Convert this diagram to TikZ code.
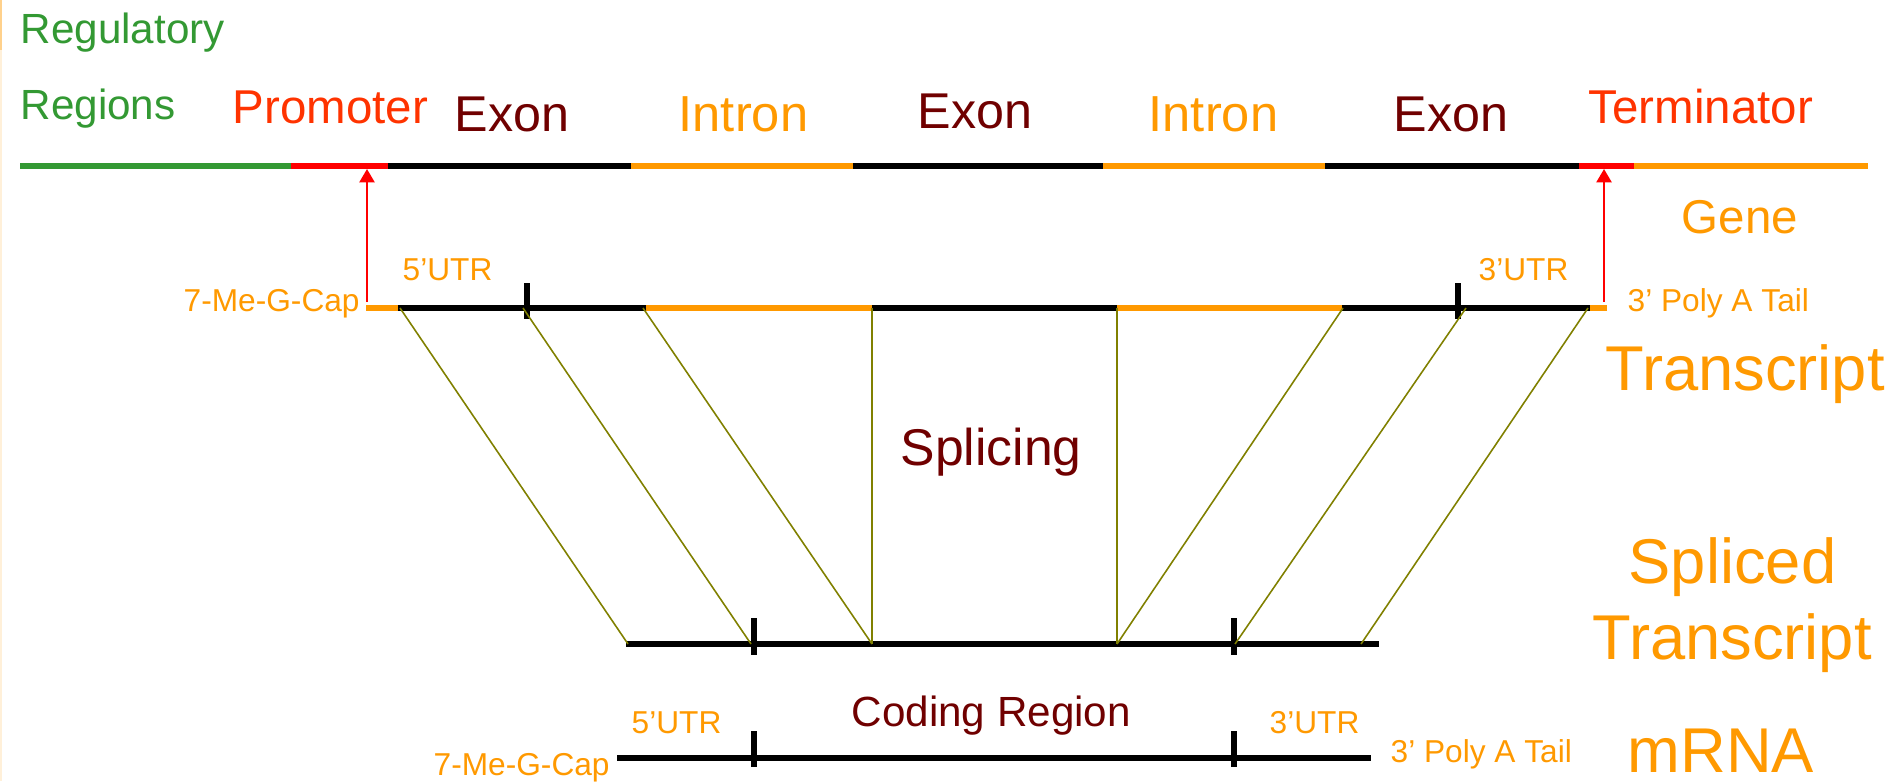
\documentclass[tikz,border=0pt]{standalone}
\usepackage{fontspec}
\setmainfont{Liberation Sans}
\usetikzlibrary{arrows.meta}

\definecolor{regreen}{RGB}{51,153,51}
\definecolor{promred}{RGB}{255,51,0}
\definecolor{exonred}{RGB}{112,0,0}
\definecolor{introrange}{RGB}{255,153,0}
\definecolor{olive}{RGB}{128,128,0}

\tikzset{
  lbl/.style={inner sep=0pt, anchor=base west},
  regtext/.style={lbl, text=regreen, font=\fontsize{12}{14}\selectfont},
  promtext/.style={lbl, text=promred, font=\fontsize{13.5}{16}\selectfont},
  exontext/.style={lbl, text=exonred, font=\fontsize{14.3}{17}\selectfont},
  introntext/.style={lbl, text=introrange, font=\fontsize{14.4}{17}\selectfont},
  smalltext/.style={lbl, text=introrange, font=\fontsize{9}{11}\selectfont},
  bigtext/.style={lbl, text=introrange, font=\fontsize{18}{21}\selectfont},
  geneline/.style={line width=1.75pt, line cap=butt},
  rnaline/.style={line width=1.45pt, line cap=butt},
  utrtick/.style={line width=1.45pt, black},
  splice/.style={olive, line width=0.45pt},
  start/.style={red, line width=0.6pt, -{Triangle[width=4.3pt,length=3.8pt]}}
}

\begin{document}
\begin{tikzpicture}[x=0.01cm, y=-0.01cm]
  \useasboundingbox (0,0) rectangle (1901,781);
  \fill[introrange!45] (0,0) rectangle (2,50);
  \fill[introrange!15] (0,50) rectangle (2,781);

  % gene
  \coordinate (G0) at (20,166);
  \coordinate (G1) at (291,166);
  \coordinate (G2) at (388,166);
  \coordinate (G3) at (631,166);
  \coordinate (G4) at (853,166);
  \coordinate (G5) at (1103,166);
  \coordinate (G6) at (1325,166);
  \coordinate (G7) at (1579,166);
  \coordinate (G8) at (1634,166);
  \coordinate (G9) at (1868,166);
  \draw[geneline, regreen] (G0) -- (G1);
  \draw[geneline, red] (G1) -- (G2);
  \draw[geneline, black] (G2) -- (G3);
  \draw[geneline, introrange] (G3) -- (G4);
  \draw[geneline, black] (G4) -- (G5);
  \draw[geneline, introrange] (G5) -- (G6);
  \draw[geneline, black] (G6) -- (G7);
  \draw[geneline, red] (G7) -- (G8);
  \draw[geneline, introrange] (G8) -- (G9);

  \node[regtext] (Reg) at (20,43) {Regulatory};
  \node[regtext] (Regs) at (20,119) {Regions};
  \node[promtext] (Prom) at (232,123) {Promoter};
  \node[exontext] (E1) at (454,131) {Exon};
  \node[introntext] (I1) at (678,131) {Intron};
  \node[exontext] (E2) at (917,128) {Exon};
  \node[introntext] (I2) at (1148,131) {Intron};
  \node[exontext] (E3) at (1393,131) {Exon};
  \node[promtext] (Term) at (1588,123) {Terminator};
  \node[lbl, text=introrange, font=\fontsize{13.5}{16}\selectfont] (Gene) at (1681,233) {Gene};

  % transcript
  \coordinate (T0) at (366,308);
  \coordinate (T1) at (398,308);
  \coordinate (T2) at (646,308);
  \coordinate (T3) at (872,308);
  \coordinate (T4) at (1117,308);
  \coordinate (T5) at (1342,308);
  \coordinate (T6) at (1590,308);
  \coordinate (T7) at (1607,308);
  \draw[rnaline, introrange] (T0) -- (T1);
  \draw[rnaline, black] (T1) -- (T2);
  \draw[rnaline, introrange] (T2) -- (T3);
  \draw[rnaline, black] (T3) -- (T4);
  \draw[rnaline, introrange] (T4) -- (T5);
  \draw[rnaline, black] (T5) -- (T6);
  \draw[rnaline, introrange] (T6) -- (T7);
  \draw[utrtick] (527,283) -- (527,319);
  \draw[utrtick] (1458,283) -- (1458,319);

  \coordinate (P1) at (367,302);
  \coordinate (P2) at (367,169);
  \coordinate (Q1) at (1604,302);
  \coordinate (Q2) at (1604,169);
  \draw[start] (P1) -- (P2);
  \draw[start] (Q1) -- (Q2);

  \node[smalltext] (CapT) at (183,311) {7-Me-G-Cap};
  \node[smalltext] (U5T) at (402,280) {5'UTR};
  \node[smalltext] (U3T) at (1478,280) {3'UTR};
  \node[smalltext] (TailT) at (1627,311) {3' Poly A Tail};
  \node[bigtext] (Tr) at (1605,390) {Transcript};

  % spliced transcript
  \coordinate (S0) at (626,644);
  \coordinate (S9) at (1379,644);
  \draw[rnaline, black] (S0) -- (S9);
  \draw[utrtick] (754,618) -- (754,655);
  \draw[utrtick] (1234,618) -- (1234,655);

  \coordinate (A1) at (400,308);
  \coordinate (A2) at (523,308);
  \coordinate (A3) at (643,308);
  \coordinate (A4) at (872,308);
  \coordinate (A5) at (1117,308);
  \coordinate (A6) at (1343,308);
  \coordinate (A7) at (1466,308);
  \coordinate (A8) at (1588,308);
  \coordinate (B1) at (628,644);
  \coordinate (B2) at (751,644);
  \coordinate (B3) at (872,644);
  \coordinate (B5) at (1117,644);
  \coordinate (B7) at (1235,644);
  \coordinate (B8) at (1361,644);
  \path[splice] (A1) edge (B1)
                (A2) edge (B2)
                (A3) edge (B3)
                (A4) edge (B3)
                (A5) edge (B5)
                (A6) edge (B5)
                (A7) edge (B7)
                (A8) edge (B8);

  \node[lbl, text=exonred, font=\fontsize{14.7}{17}\selectfont] (Spl) at (900,465) {Splicing};
  \node[bigtext] (SpA) at (1628,583) {Spliced};
  \node[bigtext] (SpB) at (1592,659) {Transcript};

  % mRNA
  \coordinate (M0) at (617,758);
  \coordinate (M9) at (1371,758);
  \draw[rnaline, black] (M0) -- (M9);
  \draw[utrtick] (754,731) -- (754,767);
  \draw[utrtick] (1234,731) -- (1234,767);

  \node[lbl, text=exonred, font=\fontsize{12}{14}\selectfont] (Cod) at (851,726) {Coding Region};
  \node[smalltext] (U5M) at (631,733) {5'UTR};
  \node[smalltext] (U3M) at (1269,733) {3'UTR};
  \node[smalltext] (CapM) at (433,775) {7-Me-G-Cap};
  \node[smalltext] (TailM) at (1390,762) {3' Poly A Tail};
  \node[bigtext] (MR) at (1627,772) {mRNA};
\end{tikzpicture}
\end{document}
